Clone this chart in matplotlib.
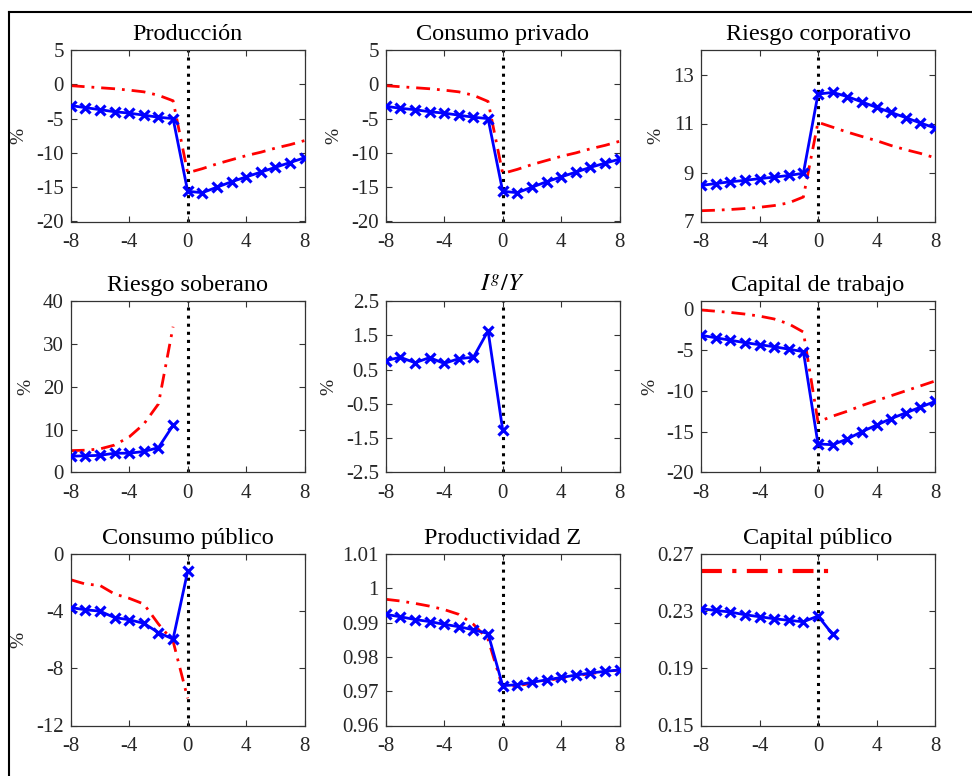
import numpy as np
import matplotlib
matplotlib.use('Agg')
import matplotlib.pyplot as plt
from matplotlib.lines import Line2D

plt.rcParams['font.family'] = ['Liberation Serif', 'DejaVu Serif']
plt.rcParams['mathtext.fontset'] = 'stix'
plt.rcParams['axes.unicode_minus'] = False
plt.rcParams['font.size'] = 12

# horizonte
t_full = list(range(-8, 9))
t_pre = list(range(-8, 0))
t_to0 = list(range(-8, 1))
t_to1 = list(range(-8, 2))

# Producción
prod_blue = [-3.1, -3.4, -3.7, -4.0, -4.2, -4.5, -4.8, -5.0, -15.6, -15.8, -15.0, -14.2, -13.5, -12.8, -12.1, -11.4, -10.7]
prod_red = [-0.2, -0.35, -0.5, -0.65, -0.85, -1.1, -1.6, -2.4, -12.9, -12.3, -11.6, -11.0, -10.4, -9.9, -9.3, -8.8, -8.2]

# Consumo privado
cons_blue = [-3.2, -3.5, -3.7, -4.0, -4.2, -4.5, -4.8, -5.0, -15.6, -15.8, -15.0, -14.2, -13.5, -12.8, -12.1, -11.5, -10.9]
cons_red = [-0.2, -0.35, -0.5, -0.65, -0.85, -1.1, -1.6, -2.5, -13.0, -12.4, -11.7, -11.1, -10.5, -10.0, -9.4, -8.9, -8.3]

# Riesgo corporativo
rcorp_blue = [8.47, 8.55, 8.62, 8.68, 8.75, 8.81, 8.88, 8.97, 12.2, 12.27, 12.1, 11.88, 11.66, 11.45, 11.24, 11.02, 10.82]
rcorp_red = [7.44, 7.46, 7.49, 7.53, 7.58, 7.65, 7.76, 8.0, 11.05, 10.85, 10.65, 10.47, 10.3, 10.1, 9.93, 9.78, 9.6]

# Riesgo soberano
rsob_blue = [3.8, 3.9, 4.0, 4.5, 4.5, 4.9, 5.8, 11.0]
rsob_red = [5.1, 5.2, 5.5, 6.4, 8.3, 11.3, 16.0, 34.0]

# Ig/Y
igy_blue = [0.76, 0.86, 0.70, 0.85, 0.68, 0.82, 0.86, 1.63, -1.26]

# Capital de trabajo
ktr_blue = [-3.2, -3.5, -3.8, -4.1, -4.35, -4.6, -4.9, -5.2, -16.5, -16.6, -15.9, -15.0, -14.2, -13.4, -12.7, -12.0, -11.3]
ktr_red = [-0.1, -0.25, -0.4, -0.6, -0.85, -1.2, -1.8, -2.8, -13.8, -13.1, -12.5, -11.8, -11.2, -10.6, -10.0, -9.4, -8.8]

# Consumo público
cpub_blue = [-3.75, -3.9, -4.0, -4.45, -4.6, -4.85, -5.5, -5.95, -1.2]
cpub_red = [-1.8, -2.1, -2.2, -2.8, -3.1, -3.5, -4.9, -6.1, -10.1]

# Productividad Z
prodz_blue = [0.9924, 0.9917, 0.9909, 0.9903, 0.9895, 0.9888, 0.9879, 0.9868, 0.9716, 0.9719, 0.9726, 0.9733, 0.9740, 0.9747, 0.9753, 0.9758, 0.9762]
prodz_red = [0.9968, 0.9963, 0.9956, 0.9948, 0.9938, 0.9924, 0.9895, 0.9851, 0.9711, 0.9716, 0.9723, 0.9731, 0.9738, 0.9745, 0.9751, 0.9757, 0.9762]

# Capital público
kpub_blue = [0.2317, 0.2305, 0.2294, 0.2275, 0.2261, 0.2247, 0.2236, 0.2226, 0.2266, 0.2138]
kpub_red = [0.2579] * 10

panels = [
    ('Producción', t_full, prod_blue, t_full, prod_red, (-20, 5), [-20, -15, -10, -5, 0, 5], True),
    ('Consumo privado', t_full, cons_blue, t_full, cons_red, (-20, 5), [-20, -15, -10, -5, 0, 5], True),
    ('Riesgo corporativo', t_full, rcorp_blue, t_full, rcorp_red, (7, 14), [7, 9, 11, 13], True),
    ('Riesgo soberano', t_pre, rsob_blue, t_pre, rsob_red, (0, 40), [0, 10, 20, 30, 40], True),
    ('$I^g/Y$', t_to0, igy_blue, None, None, (-2.5, 2.5), [-2.5, -1.5, -0.5, 0.5, 1.5, 2.5], True),
    ('Capital de trabajo', t_full, ktr_blue, t_full, ktr_red, (-20, 1), [-20, -15, -10, -5, 0], True),
    ('Consumo público', t_to0, cpub_blue, t_to0, cpub_red, (-12, 0), [-12, -8, -4, 0], True),
    ('Productividad Z', t_full, prodz_blue, t_full, prodz_red, (0.96, 1.01), [0.96, 0.97, 0.98, 0.99, 1.0, 1.01], False),
    ('Capital público', t_to1, kpub_blue, t_to1, kpub_red, (0.15, 0.27), [0.15, 0.19, 0.23, 0.27], False),
]

ytick_fmt = {
    'Productividad Z': ['0.96', '0.97', '0.98', '0.99', '1', '1.01'],
}

W, H = 972, 776
col_left = [70.7, 385.7, 701]
row_top = [50, 301, 554]
ax_w, ax_h = 234, 171.5

fig = plt.figure(figsize=(W / 100, H / 100), dpi=100)

for k, (title, xb, yb, xr, yr, ylim, yticks, pct) in enumerate(panels):
	r, c = divmod(k, 3)
	ax = fig.add_axes([col_left[c] / W, 1 - (row_top[r] + ax_h) / H, ax_w / W, ax_h / H])
	ax.axvline(0, color='black', ls=':', lw=2.2, zorder=1)
	if xr is not None:
		lw_r = 3 if title == 'Capital público' else 2
		ax.plot(xr, yr, color='red', lw=lw_r, ls=(0, (5, 2.5, 1, 2.5)), zorder=2)
	ax.plot(xb, yb, color='blue', lw=2, marker='x', ms=7, mew=2.3, zorder=3)
	ax.set_xlim(-8, 8)
	ax.set_ylim(*ylim)
	ax.set_xticks([-8, -4, 0, 4, 8])
	ax.set_yticks(yticks)
	if title in ytick_fmt:
		ax.set_yticklabels(ytick_fmt[title])
	ax.tick_params(direction='in', top=True, right=True, length=4, width=0.8,
	               labelsize=15, colors='#333333', labelcolor='#262626')
	ax.tick_params(axis='x', pad=8)
	ax.tick_params(axis='y', pad=5)
	for s in ax.spines.values():
		s.set_color('#333333')
		s.set_linewidth(0.9)
	ax.set_title(title, fontsize=17.5, pad=7)
	if pct:
		ax.set_ylabel('%', fontsize=14, color='#262626', labelpad=6)

# marco de la figura
fig.add_artist(Line2D([9 / W, 1], [1 - 12 / H, 1 - 12 / H], color='black', lw=1.5))
fig.add_artist(Line2D([9 / W, 9 / W], [0, 1 - 12 / H], color='black', lw=1.5))

plt.savefig('out.png', dpi=100)
